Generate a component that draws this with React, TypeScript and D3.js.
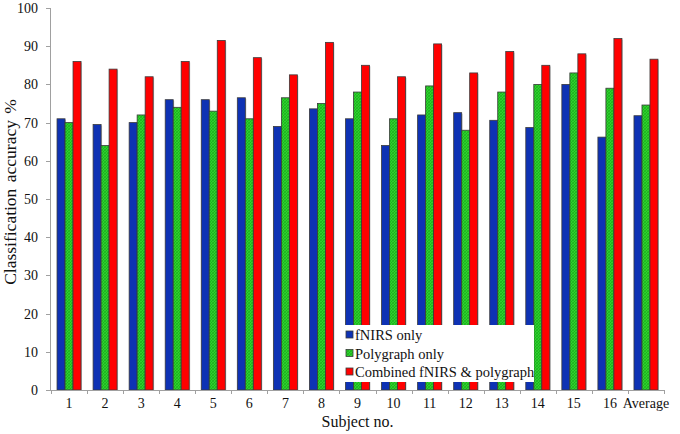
import React from "react";
import * as d3 from "d3";

const categories = ["1","2","3","4","5","6","7","8","9","10","11","12","13","14","15","16","Average"];
const fnirsOnly = [71, 69.5, 70, 76, 76, 76.5, 69, 73.6, 71, 64, 72, 72.6, 70.6, 68.7, 80, 66.2, 71.8];
const polygraphOnly = [70, 64, 72, 74, 73, 71, 76.5, 75, 78, 71, 79.6, 68, 78, 80, 83, 79, 74.6];
const combined = [86, 84, 82, 86, 91.5, 87, 82.5, 91, 85, 82, 90.6, 83, 88.6, 85, 88, 92, 86.6];
const seriesNames = ["fNIRS only", "Polygraph only", "Combined fNIRS & polygraph"];
const yTicks = [0, 10, 20, 30, 40, 50, 60, 70, 80, 90, 100];

const W = 680, H = 434;
const left = 51, right = 664, top = 8, bottom = 390;

export default function App() {
  const x = d3.scaleBand<string>().domain(categories).range([left, right]).padding(0);
  const y = d3.scaleLinear().domain([0, 100]).range([bottom, top]);
  const barW = 8;
  const series = [
    { name: seriesNames[0], values: fnirsOnly, fill: "#0e32b4" },
    { name: seriesNames[1], values: polygraphOnly, fill: "url(#hatch)" },
    { name: seriesNames[2], values: combined, fill: "#ff0000" },
  ];
  const ts: React.CSSProperties = { fontFamily: "\"Liberation Serif\", \"Times New Roman\", \"DejaVu Serif\", serif" };
  const legX = 343, legY = 325, legW = 191, legH = 57;
  return (
    <div style={{ position: "absolute", left: 0, top: 0 }}>
      <svg width={W} height={H} style={{ display: "block", background: "#fff" }}>
        <defs>
          <pattern id="hatch" patternUnits="userSpaceOnUse" width="3" height="3">
            <rect width="3" height="3" fill="#2ed12e" />
            <path d="M0,3 L3,0" stroke="#18a818" strokeWidth="0.7" />
            <path d="M0,0 L3,3" stroke="#18a818" strokeWidth="0.5" />
          </pattern>
        </defs>
        {/* y axis */}
        <line x1={left - 0.5} x2={left - 0.5} y1={y(100)} y2={bottom} stroke="#a0a0a0" strokeWidth={1} />
        {yTicks.map((t) => (
          <g key={t}>
            <line x1={left - 5} x2={left} y1={Math.round(y(t)) + 0.5} y2={Math.round(y(t)) + 0.5} stroke="#a0a0a0" />
            <text x={38} y={y(t)} dy="0.35em" textAnchor="end" fontSize={14} fill="#111" style={ts}>{t}</text>
          </g>
        ))}
        {/* bars */}
        {series.map((s, si) => (
          <g key={s.name}>
            {categories.map((c, ci) => {
              const cx = (x(c) as number) + x.bandwidth() / 2;
              const bx = cx - 1.5 * barW + si * barW;
              return (
                <g key={c}>
                  <rect x={bx + 1} y={y(s.values[ci]) + 1} width={barW} height={bottom - y(s.values[ci]) - 1} fill="#c8c8c8" />
                  <rect x={bx} y={y(s.values[ci])} width={barW} height={bottom - y(s.values[ci])} fill={s.fill} stroke="#3a3a3a" strokeWidth={0.8} />
                </g>
              );
            })}
          </g>
        ))}
        {/* x axis */}
        <line x1={left} x2={right} y1={bottom + 0.5} y2={bottom + 0.5} stroke="#a0a0a0" />
        {categories.map((c) => (
          <line key={"t" + c} x1={Math.round(x(c) as number) + 0.5} x2={Math.round(x(c) as number) + 0.5} y1={bottom} y2={bottom + 4} stroke="#a0a0a0" />
        ))}
        <line x1={right + 0.5} x2={right + 0.5} y1={bottom} y2={bottom + 4} stroke="#a0a0a0" />
        {categories.map((c) => (
          <text key={"l" + c} x={(x(c) as number) + x.bandwidth() / 2} y={408} textAnchor="middle" fontSize={14} fill="#111" style={ts}>{c}</text>
        ))}
        {/* legend */}
        <rect x={legX} y={legY} width={legW} height={legH} fill="#fff" />
        {series.map((s, i) => (
          <g key={"lg" + i}>
            <rect x={346} y={331 + i * 18.5} width={7} height={7} fill={s.fill} stroke="#3a3a3a" strokeWidth={0.8} />
            <text x={355} y={340 + i * 18.5} fontSize={14.5} fill="#111" style={ts}>{s.name}</text>
          </g>
        ))}
        {/* axis titles */}
        <text x={(left + right) / 2} y={427} textAnchor="middle" fontSize={16} fill="#111" style={ts}>Subject no.</text>
        <text transform={`translate(16,192) rotate(-90)`} textAnchor="middle" fontSize={17.5} wordSpacing={2} fill="#111" style={ts}>Classification accuracy %</text>
      </svg>
    </div>
  );
}
